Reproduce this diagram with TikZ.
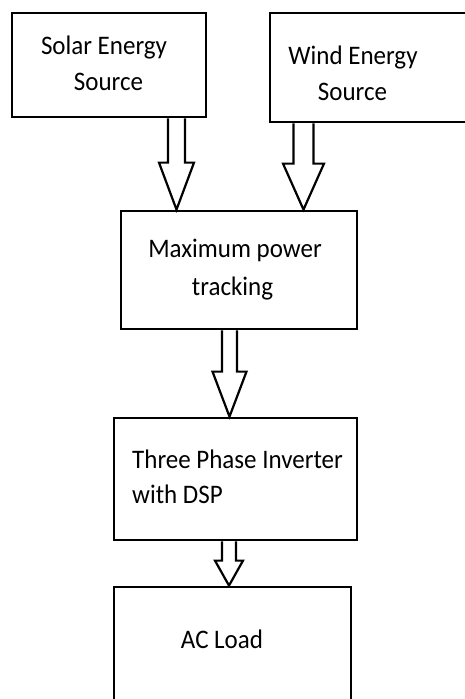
\documentclass[tikz,border=0pt]{standalone}
\usepackage{fontspec}
\setmainfont{Carlito}
\usetikzlibrary{calc}
\newcommand\lbl[1]{\scalebox{1}[1.07]{#1}}
\newcommand\blockarr[6]{%
  \draw[blockarrow] let \p1=(#1.south), \p2=(#2.north) in
    (#3pt-#4pt,\y1) -- (#3pt-#4pt,\y2+#6pt) -- (#3pt-#5pt,\y2+#6pt) -- (#3pt,\y2)
    -- (#3pt+#5pt,\y2+#6pt) -- (#3pt+#4pt,\y2+#6pt) -- (#3pt+#4pt,\y1);}
\begin{document}
\begin{tikzpicture}[x=1pt,y=-1pt,
  box/.style={draw=black,line width=2.8pt,fill=white,inner sep=0pt},
  txt/.style={anchor=base,inner sep=0pt,font=\fontsize{25}{30}\selectfont},
  blockarrow/.style={draw=black,line width=2.2pt,fill=white,line join=miter}]
\clip (0,0) rectangle (465,699);
\fill[white] (0,0) rectangle (465,699);
% boxes
\node[box,minimum width=194pt,minimum height=104pt] (solar) at (109,65) {};
\node[box,minimum width=210pt,minimum height=109pt] (wind) at (375,67.5) {};
\node[box,minimum width=236pt,minimum height=118pt] (mpt) at (239,270) {};
\node[box,minimum width=243pt,minimum height=122pt] (inv) at (235.5,479) {};
\node[box,minimum width=237pt,minimum height=125pt] (ac) at (232.5,649.5) {};
% arrows
\blockarr{solar}{mpt}{176.5}{8.5}{17.5}{47}
\blockarr{wind}{mpt}{303.5}{10}{20.5}{46}
\blockarr{mpt}{inv}{229.5}{7.5}{17}{45}
\blockarr{inv}{ac}{229}{7}{14}{25}
% labels
\node[txt] (solar1) at (104,54) {\lbl{Solar Energy}};
\node[txt] (solar2) at (108.5,90) {\lbl{Source}};
\node[txt] (wind1) at (353,64) {\lbl{Wind Energy}};
\node[txt] (wind2) at (352.5,100) {\lbl{Source}};
\node[txt] (mpt1) at (235,257) {\lbl{Maximum power}};
\node[txt] (mpt2) at (232.5,295) {\lbl{tracking}};
\node[txt,anchor=base west] (inv1) at (132,468) {\lbl{Three Phase Inverter}};
\node[txt,anchor=base west] (inv2) at (132,503) {\lbl{with DSP}};
\node[txt] (ac1) at (222,648) {\lbl{AC Load}};
\end{tikzpicture}
\end{document}
